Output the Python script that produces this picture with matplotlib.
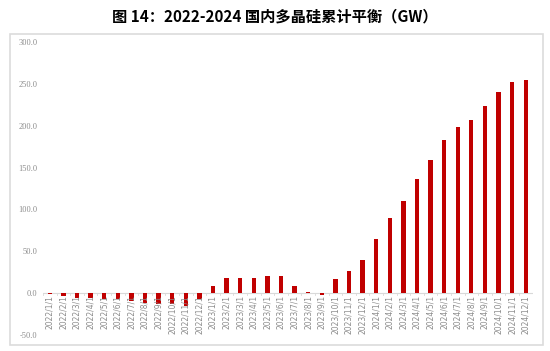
import matplotlib
matplotlib.use("Agg")
import matplotlib.pyplot as plt
from matplotlib.patches import Rectangle

plt.rcParams['font.family'] = ['Noto Sans CJK SC', 'DejaVu Sans']

# 月份标签 2022/1/1 ... 2024/12/1
labels = [f"{y}/{m}/1" for y in (2022, 2023, 2024) for m in range(1, 13)]
values = [-1.5, -3, -5.5, -6, -7, -7, -9, -12, -12.5, -12.5, -15.5, -6.5,
          8.4, 17.5, 17.5, 17.5, 20, 20, 9, 1.5, -2, 16.4, 26, 39,
          64.8, 90, 109.5, 136, 159, 183, 199, 206.6, 223, 240, 252.8, 254.4]
yticks = [-50, 0, 50, 100, 150, 200, 250, 300]

fig = plt.figure(figsize=(5.5, 3.51), dpi=100)
fig.patches.append(Rectangle((10 / 550, 1 - 345 / 351), 533 / 550, 311 / 351,
                             transform=fig.transFigure, fill=False,
                             edgecolor='#DCDCDC', linewidth=1.2))
fig.text(0.5, 1 - 16 / 351, '图 14：2022-2024 国内多晶硅累计平衡（GW）',
         ha='center', va='center', fontsize=11, fontweight='bold', color='black')

ax = fig.add_axes([43 / 550, 1 - 335 / 351, 489.5 / 550, 293 / 351])
x = range(len(labels))
ax.bar(x, values, width=0.32, color='#C00000')
ax.set_xlim(-0.5, len(labels) - 0.5)
ax.set_ylim(-50, 300)
ax.set_yticks(yticks)
ax.set_yticklabels([f"{v:.1f}" for v in yticks], fontsize=6, color='#8C8C8C',
                   family=['Liberation Serif'])
ax.tick_params(axis='y', length=0, pad=4)

for s in ax.spines.values():
    s.set_visible(False)
ax.axhline(0, color='#D9D9D9', linewidth=0.8, zorder=0)

# x labels sit just under the zero line
ax.set_xticks([])
for i, lab in enumerate(labels):
    ax.text(i, -2.5, lab, rotation=90, ha='center', va='top', fontsize=5.5,
            color='#8C8C8C', family=['DejaVu Sans'])
    ax.plot([i - 0.5, i - 0.5], [0, -2.5], color='#D9D9D9', linewidth=0.6)

fig.savefig('out.png', dpi=100)
